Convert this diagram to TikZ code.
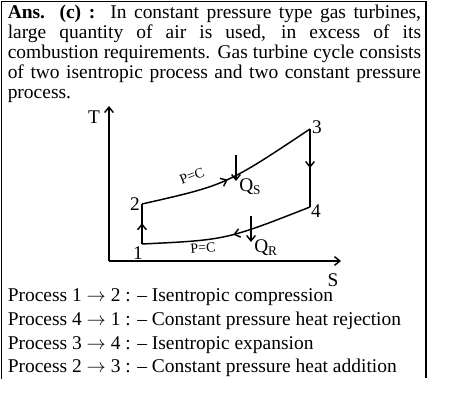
\documentclass[tikz,border=0pt]{standalone}
\usepackage{fontspec}
\setmainfont{Liberation Serif}
\usetikzlibrary{arrows.meta,decorations.markings}
\begin{document}
\begin{tikzpicture}[x=0.75pt,y=-0.75pt,
  boxline/.style={line width=0.8pt},
  curve/.style={line width=1.1pt},
  tip/.style={-{Straight Barb[length=4pt,width=6.5pt,line width=1.1pt]}},
  midarrow/.style={postaction={decorate},decoration={markings,
     mark=at position #1 with {\arrow{Straight Barb[length=4pt,width=6.5pt,line width=1.1pt]}}}},
  lbl/.style={inner sep=0pt,font=\fontsize{14.5}{16}\selectfont},
  small/.style={inner sep=0pt,font=\fontsize{10.5}{12}\selectfont},
  txtline/.style={inner sep=0pt,anchor=base west,font=\fontsize{14.6}{17}\selectfont}]
\useasboundingbox (0,0) rectangle (468,413);
% frame
\draw[boxline] (1.5,379) -- (1.5,1.5) -- (426,1.5) -- (426,378);
% paragraph
\node[inner sep=0pt,anchor=north west,text width=310pt,align=justify,
      font=\fontsize{14.6}{15}\selectfont] (para) at (7.5,5)
 {\textbf{Ans. (c) :}\ \ In constant pressure type gas turbines,\linebreak
  large quantity of air is used, in excess of its\linebreak
  combustion requirements. Gas turbine cycle consists\linebreak
  of two isentropic process and two constant pressure\linebreak
  process.};
% axes
\coordinate (O) at (109,261);
\coordinate (Ttop) at (109,106);
\coordinate (Send) at (341,261);
\draw[curve,tip] (O) -- (Ttop);
\draw[curve,tip] (O) -- (Send);
\node[lbl] (T) at (94,117) {T};
\node[lbl] (S) at (333,280) {S};
% cycle points
\coordinate (p1) at (142,244);
\coordinate (p2) at (142,204);
\coordinate (p3) at (310,129);
\coordinate (p4) at (310,207);
\draw[curve,midarrow=0.52] (p1) -- (p2);
\draw[curve,midarrow=0.5] (p3) -- (p4);
\draw[curve,midarrow=0.48] (p2) .. controls (226,185) .. (p3);
\draw[curve,midarrow=0.47] (p4) .. controls (226,240) .. (p1);
\node[lbl] (n1) at (138,253) {1};
\node[lbl] (n2) at (135,204) {2};
\node[lbl] (n3) at (317,127) {3};
\node[lbl] (n4) at (316,211) {4};
% heat arrows
\coordinate (qs1) at (236,155);
\coordinate (qs2) at (236,181);
\draw[curve,tip] (qs1) -- (qs2);
\node[lbl,anchor=west] (QS) at (239,187) {Q\textsubscript{\fontsize{10}{11}\selectfont S}};
\coordinate (qr1) at (251,216);
\coordinate (qr2) at (251,242);
\draw[curve,tip] (qr1) -- (qr2);
\node[lbl,anchor=west] (QR) at (254,248) {Q\textsubscript{\fontsize{10}{11}\selectfont R}};
\node[small,rotate=21] (pc1) at (192,176) {P=C};
\node[small,rotate=5] (pc2) at (203,248) {P=C};
% process lines
\node[txtline] (l1) at (7.5,302) {Process 1 $\rightarrow$ 2 : – Isentropic compression};
\node[txtline] (l2) at (7.5,326) {Process 4 $\rightarrow$ 1 : – Constant pressure heat rejection};
\node[txtline] (l3) at (7.5,349.5) {Process 3 $\rightarrow$ 4 : – Isentropic expansion};
\node[txtline] (l4) at (7.5,373) {Process 2 $\rightarrow$ 3 : – Constant pressure heat addition};
\end{tikzpicture}
\end{document}
